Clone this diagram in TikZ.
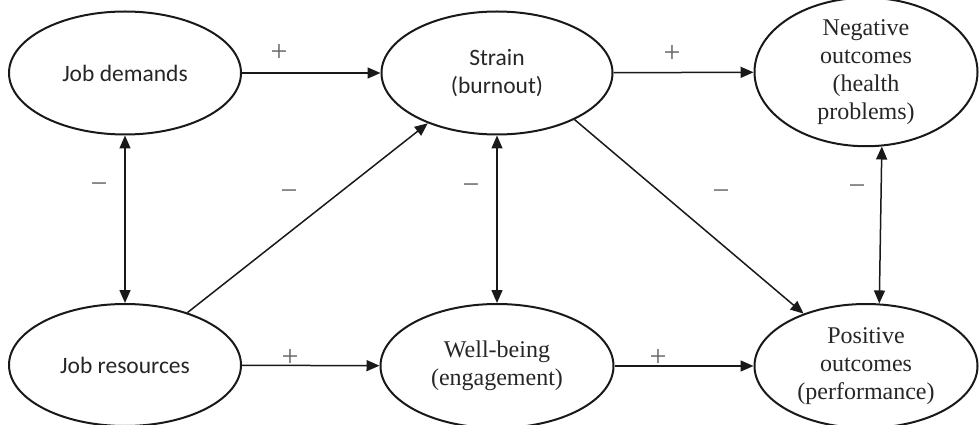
\documentclass[tikz,border=0pt]{standalone}
\usepackage{fontspec}
\setmainfont{Liberation Serif}
\newfontfamily\carl{Carlito}
\usetikzlibrary{arrows.meta,shapes.geometric}
\begin{document}
\begin{tikzpicture}[x=1pt,y=-1pt,
  oval/.style={draw=black!90, ellipse, line width=2pt, inner sep=0pt, align=center, text=black!85},
  sansf/.style={font=\carl\fontsize{23.5}{28}\selectfont},
  seriff/.style={font=\fontsize{24}{28}\selectfont},
  conn/.style={line width=1.5pt, draw=black!90, -{Triangle[length=13pt,width=11pt]}},
  bothway/.style={line width=1.5pt, draw=black!90, {Triangle[length=13pt,width=11pt]}-{Triangle[length=13pt,width=11pt]}},
  sign/.style={text=black!60, font=\fontsize{30}{30}\selectfont, inner sep=0pt}]
\useasboundingbox (0,0) rectangle (980,425);

\node[oval, sansf, minimum width=232pt, minimum height=123pt] (jd) at (125,73) {Job demands};
\node[oval, sansf, minimum width=231pt, minimum height=123pt] (strain) at (497,73) {Strain\\(burnout)};
\node[oval, seriff, minimum width=223pt, minimum height=124pt] (neg) at (866,72) {Negative\\outcomes\\(health\\problems)};
\node[oval, sansf, minimum width=232pt, minimum height=122pt] (jr) at (125,365) {Job resources};
\node[oval, seriff, minimum width=233pt, minimum height=124pt] (wb) at (497,366) {Well-being\\(engagement)};
\node[oval, seriff, minimum width=223pt, minimum height=124pt] (pos) at (866,366) {Positive\\outcomes\\(performance)};

\draw[conn] (jd) -- (strain);
\draw[conn] (strain) -- (neg);
\draw[conn] (jr) -- (wb);
\draw[conn] (wb) -- (pos);
\draw[bothway] (jd) -- (jr);
\draw[bothway] (strain) -- (wb);
\draw[bothway] (neg.-78) -- (pos.78);
\draw[conn] (jr.40) -- (strain.216);
\draw[conn] (strain.-31) -- (pos.140);

\node[sign] (p1) at (279,53) {+};
\node[sign] (p2) at (672,54) {+};
\node[sign] (p3) at (290,358) {+};
\node[sign] (p4) at (658,358) {+};
\node[sign] (m1) at (99,188) {−};
\node[sign] (m2) at (289,195) {−};
\node[sign] (m3) at (471,189) {−};
\node[sign] (m4) at (721,195) {−};
\node[sign] (m5) at (857,190) {−};
\end{tikzpicture}
\end{document}
